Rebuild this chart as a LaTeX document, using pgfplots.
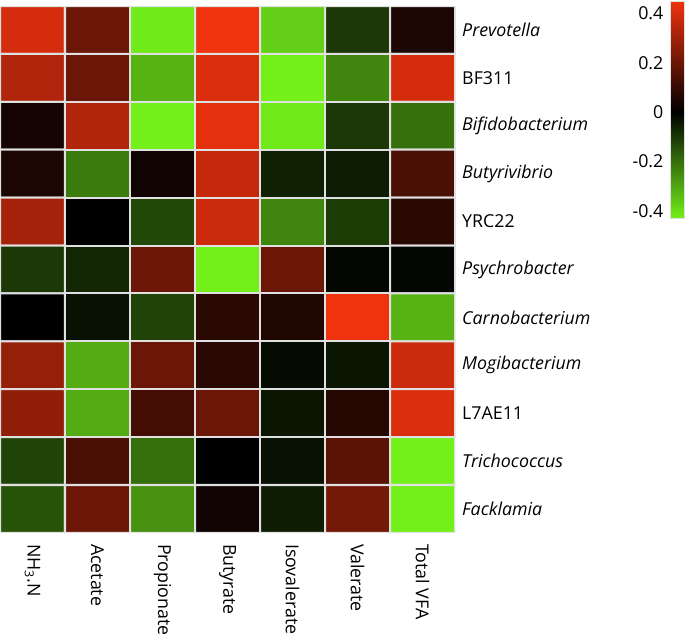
\documentclass[border=0pt]{standalone}
\usepackage{pgfplots}
\pgfplotsset{compat=1.18}
\usepackage{fontspec}
\setmainfont{Open Sans}
\begin{document}
\begin{tikzpicture}
\begin{axis}[
  scale only axis,
  width=225pt, height=260.5pt,
  xmin=-0.5, xmax=6.5, ymin=-0.5, ymax=10.5,
  y dir=reverse,
  enlargelimits=false,
  axis line style={draw=none},
  tick style={draw=none},
  xtick={0,...,6},
  xticklabels={NH\textsubscript{3}.N,Acetate,Propionate,Butyrate,Isovalerate,Valerate,Total VFA},
  xticklabel style={rotate=-90, anchor=west, font=\fontsize{8.8}{10}\selectfont},
  xticklabel shift=2pt,
  ytick={0,...,10},
  yticklabels={\textit{Prevotella},BF311,\textit{Bifidobacterium},\textit{Butyrivibrio},YRC22,\textit{Psychrobacter},\textit{Carnobacterium},\textit{Mogibacterium},L7AE11,\textit{Trichococcus},\textit{Facklamia}},
  yticklabel pos=right,
  yticklabel style={anchor=west, font=\fontsize{8.8}{10}\selectfont},
  colormap={rg}{rgb255(0pt)=(115,240,25); rgb255(43pt)=(0,0,0); rgb255(88pt)=(240,50,15)},
  point meta min=-0.43, point meta max=0.45,
  colorbar right,
  colorbar style={
    at={(parent axis.north east)}, anchor=north west,
    xshift=98pt, yshift=2.5pt,
    width=7pt, height=107.5pt,
    scale only axis,
    ytick={-0.4,-0.2,0,0.2,0.4},
    yticklabel pos=left,
    yticklabel style={font=\fontsize{8.8}{10}\selectfont, /pgf/number format/assume math mode=true, /pgf/number format/fixed},
    tick style={draw=none},
    axis line style={draw=white!75!gray, line width=0.3pt},
  },
]
\addplot[matrix plot*, mesh/cols=7, point meta=explicit, draw=white!88!black, line width=1pt] table[meta=v] {
x y v
0 0 0.40
1 0 0.20
2 0 -0.42
3 0 0.45
4 0 -0.37
5 0 -0.10
6 0 0.05
0 1 0.33
1 1 0.20
2 1 -0.32
3 1 0.41
4 1 -0.45
5 1 -0.24
6 1 0.40
0 2 0.04
1 2 0.33
2 2 -0.44
3 2 0.43
4 2 -0.42
5 2 -0.10
6 2 -0.20
0 3 0.05
1 3 -0.22
2 3 0.03
3 3 0.37
4 3 -0.06
5 3 -0.05
6 3 0.14
0 4 0.31
1 4 0.00
2 4 -0.13
3 4 0.38
4 4 -0.24
5 4 -0.11
6 4 0.08
0 5 -0.10
1 5 -0.07
2 5 0.20
3 5 -0.45
4 5 0.20
5 5 -0.01
6 5 -0.01
0 6 0.00
1 6 -0.03
2 6 -0.12
3 6 0.08
4 6 0.06
5 6 0.45
6 6 -0.32
0 7 0.28
1 7 -0.31
2 7 0.20
3 7 0.08
4 7 -0.02
5 7 -0.04
6 7 0.38
0 8 0.27
1 8 -0.31
2 8 0.13
3 8 0.20
4 8 -0.04
5 8 0.07
6 8 0.41
0 9 -0.12
1 9 0.14
2 9 -0.20
3 9 0.00
4 9 -0.03
5 9 0.17
6 9 -0.45
0 10 -0.15
1 10 0.20
2 10 -0.26
3 10 0.03
4 10 -0.05
5 10 0.22
6 10 -0.45
};
\end{axis}
\end{tikzpicture}
\end{document}
